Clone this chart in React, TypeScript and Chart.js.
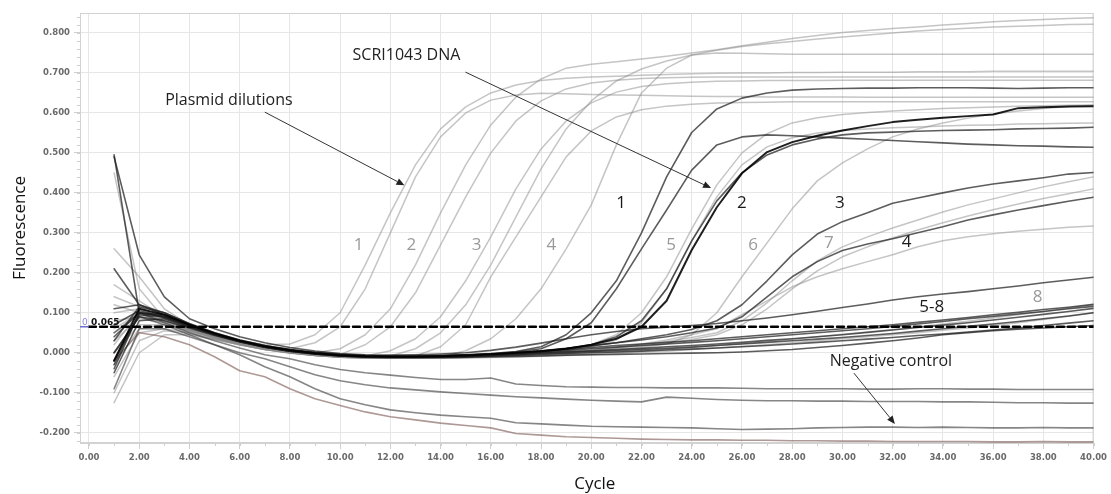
import React, { useEffect, useRef } from "react";
import { Chart, registerables } from "chart.js";

Chart.register(...registerables);

// ---------- data ----------
const CYCLES = [1, 2, 3, 4, 5, 6, 7, 8, 9, 10, 11, 12, 13, 14, 15, 16, 17, 18, 19, 20, 21, 22, 23, 24, 25, 26, 27, 28, 29, 30, 31, 32, 33, 34, 35, 36, 37, 38, 39, 40];
const X_TICKS = [0, 2, 4, 6, 8, 10, 12, 14, 16, 18, 20, 22, 24, 26, 28, 30, 32, 34, 36, 38, 40];
const Y_TICKS = [-0.2, -0.1, 0, 0.1, 0.2, 0.3, 0.4, 0.5, 0.6, 0.7, 0.8];
const THRESHOLD = 0.065;

// Plasmid dilutions (light grey)
const P1A = [0.26, 0.19, 0.11, 0.07, 0.045, 0.03, 0.02, 0.022, 0.045, 0.1, 0.22, 0.35, 0.47, 0.56, 0.615, 0.65, 0.67, 0.681, 0.687, 0.69, 0.692, 0.694, 0.696, 0.698, 0.699, 0.7, 0.7, 0.701, 0.701, 0.702, 0.702, 0.702, 0.703, 0.703, 0.703, 0.704, 0.704, 0.704, 0.704, 0.704];
const P1B = [0.17, 0.13, 0.09, 0.062, 0.042, 0.026, 0.015, 0.01, 0.025, 0.065, 0.16, 0.3, 0.44, 0.54, 0.6, 0.632, 0.645, 0.649, 0.648, 0.646, 0.645, 0.644, 0.643, 0.642, 0.641, 0.641, 0.64, 0.64, 0.64, 0.64, 0.639, 0.639, 0.639, 0.639, 0.639, 0.639, 0.639, 0.639, 0.639, 0.639];
const P2A = [0.1, 0.11, 0.085, 0.06, 0.04, 0.025, 0.013, 0.005, 0.0, 0.01, 0.045, 0.11, 0.22, 0.35, 0.47, 0.57, 0.64, 0.685, 0.712, 0.722, 0.728, 0.735, 0.742, 0.75, 0.758, 0.768, 0.777, 0.786, 0.794, 0.801, 0.806, 0.811, 0.815, 0.82, 0.824, 0.828, 0.831, 0.834, 0.836, 0.838];
const P2B = [0.05, 0.095, 0.08, 0.058, 0.04, 0.024, 0.012, 0.004, -0.003, -0.004, 0.02, 0.065, 0.15, 0.27, 0.39, 0.5, 0.58, 0.63, 0.66, 0.675, 0.682, 0.686, 0.688, 0.689, 0.69, 0.69, 0.69, 0.69, 0.69, 0.69, 0.69, 0.69, 0.69, 0.69, 0.69, 0.69, 0.69, 0.69, 0.69, 0.69];
const P3A = [0.02, 0.1, 0.078, 0.056, 0.038, 0.022, 0.01, 0.002, -0.005, -0.009, -0.008, 0.005, 0.035, 0.09, 0.18, 0.29, 0.41, 0.51, 0.58, 0.625, 0.652, 0.666, 0.673, 0.677, 0.679, 0.68, 0.681, 0.681, 0.681, 0.682, 0.682, 0.682, 0.682, 0.682, 0.682, 0.682, 0.682, 0.682, 0.682, 0.682];
const P3B = [-0.03, 0.06, 0.07, 0.055, 0.038, 0.022, 0.01, 0.001, -0.006, -0.01, -0.012, -0.008, 0.01, 0.05, 0.12, 0.22, 0.34, 0.46, 0.56, 0.63, 0.68, 0.71, 0.73, 0.745, 0.757, 0.766, 0.773, 0.779, 0.785, 0.79, 0.795, 0.8, 0.805, 0.809, 0.812, 0.815, 0.817, 0.819, 0.821, 0.822];
const P4A = [0.08, 0.09, 0.075, 0.055, 0.037, 0.021, 0.009, 0.0, -0.007, -0.011, -0.013, -0.013, -0.008, 0.015, 0.07, 0.19, 0.29, 0.39, 0.49, 0.555, 0.59, 0.608, 0.617, 0.622, 0.625, 0.626, 0.627, 0.628, 0.628, 0.628, 0.628, 0.628, 0.628, 0.628, 0.628, 0.628, 0.628, 0.628, 0.628, 0.628];
const P4B = [0.12, 0.1, 0.08, 0.057, 0.039, 0.023, 0.011, 0.002, -0.006, -0.011, -0.013, -0.014, -0.014, -0.01, 0.005, 0.035, 0.085, 0.16, 0.26, 0.37, 0.52, 0.65, 0.712, 0.745, 0.75, 0.749, 0.748, 0.747, 0.747, 0.747, 0.747, 0.747, 0.747, 0.747, 0.747, 0.747, 0.747, 0.747, 0.747, 0.747];
const P5A = [0.03, 0.085, 0.075, 0.055, 0.037, 0.021, 0.009, 0.0, -0.006, -0.01, -0.012, -0.013, -0.013, -0.012, -0.01, -0.007, -0.003, 0.002, 0.01, 0.02, 0.045, 0.1, 0.19, 0.31, 0.42, 0.5, 0.548, 0.575, 0.588, 0.596, 0.601, 0.605, 0.608, 0.611, 0.613, 0.615, 0.617, 0.618, 0.619, 0.62];
const P5B = [0.0, 0.07, 0.07, 0.053, 0.036, 0.02, 0.008, -0.001, -0.007, -0.011, -0.013, -0.014, -0.014, -0.013, -0.011, -0.008, -0.004, 0.0, 0.006, 0.015, 0.032, 0.075, 0.16, 0.28, 0.39, 0.47, 0.515, 0.538, 0.55, 0.556, 0.56, 0.563, 0.565, 0.567, 0.569, 0.57, 0.572, 0.573, 0.574, 0.575];
const P6A = [0.06, 0.1, 0.08, 0.057, 0.038, 0.022, 0.01, 0.001, -0.006, -0.01, -0.012, -0.013, -0.013, -0.013, -0.012, -0.01, -0.008, -0.005, -0.002, 0.002, 0.007, 0.013, 0.022, 0.045, 0.1, 0.19, 0.275, 0.36, 0.43, 0.475, 0.51, 0.54, 0.56, 0.575, 0.587, 0.597, 0.605, 0.611, 0.616, 0.619];
const P6B = [0.45, 0.16, 0.085, 0.06, 0.04, 0.024, 0.01, 0.0, -0.007, -0.011, -0.013, -0.014, -0.014, -0.013, -0.012, -0.01, -0.007, -0.004, 0.0, 0.006, 0.013, 0.022, 0.032, 0.045, 0.06, 0.095, 0.13, 0.165, 0.19, 0.21, 0.228, 0.245, 0.265, 0.28, 0.29, 0.298, 0.304, 0.309, 0.314, 0.317];
const P7A = [0.14, 0.115, 0.085, 0.06, 0.04, 0.024, 0.012, 0.003, -0.004, -0.009, -0.011, -0.012, -0.012, -0.011, -0.01, -0.008, -0.005, -0.002, 0.002, 0.007, 0.013, 0.02, 0.028, 0.038, 0.05, 0.08, 0.125, 0.18, 0.23, 0.265, 0.29, 0.312, 0.332, 0.352, 0.37, 0.385, 0.4, 0.415, 0.428, 0.44];
const P7B = [-0.1, 0.03, 0.055, 0.048, 0.034, 0.02, 0.008, 0.0, -0.006, -0.01, -0.012, -0.013, -0.013, -0.012, -0.011, -0.009, -0.006, -0.003, 0.0, 0.004, 0.01, 0.016, 0.024, 0.033, 0.045, 0.07, 0.11, 0.16, 0.205, 0.24, 0.265, 0.287, 0.307, 0.325, 0.342, 0.358, 0.372, 0.386, 0.398, 0.41];
const P8A = [-0.125, 0.0, 0.045, 0.045, 0.033, 0.02, 0.008, 0.0, -0.006, -0.01, -0.012, -0.013, -0.013, -0.013, -0.012, -0.011, -0.009, -0.007, -0.005, -0.002, 0.001, 0.005, 0.009, 0.013, 0.018, 0.023, 0.028, 0.034, 0.04, 0.046, 0.052, 0.058, 0.065, 0.072, 0.079, 0.087, 0.095, 0.103, 0.112, 0.12];
const P8B = [-0.06, 0.05, 0.06, 0.05, 0.034, 0.02, 0.008, 0.0, -0.006, -0.01, -0.012, -0.013, -0.014, -0.014, -0.013, -0.012, -0.011, -0.009, -0.007, -0.005, -0.002, 0.001, 0.004, 0.008, 0.012, 0.016, 0.02, 0.025, 0.03, 0.035, 0.04, 0.045, 0.05, 0.056, 0.062, 0.068, 0.075, 0.083, 0.091, 0.1];

// SCRI1043 DNA (dark)
const S1A = [0.495, 0.1, 0.09, 0.065, 0.045, 0.028, 0.015, 0.006, 0.0, -0.005, -0.007, -0.008, -0.008, -0.007, -0.005, -0.002, 0.003, 0.015, 0.045, 0.1, 0.18, 0.3, 0.44, 0.551, 0.61, 0.637, 0.65, 0.657, 0.66, 0.661, 0.662, 0.662, 0.663, 0.663, 0.663, 0.662, 0.661, 0.662, 0.663, 0.663];
const S1B = [0.21, 0.12, 0.095, 0.07, 0.048, 0.03, 0.016, 0.006, -0.001, -0.006, -0.008, -0.009, -0.009, -0.008, -0.006, -0.003, 0.002, 0.01, 0.035, 0.075, 0.16, 0.26, 0.357, 0.457, 0.52, 0.54, 0.545, 0.543, 0.54, 0.537, 0.534, 0.531, 0.528, 0.525, 0.522, 0.52, 0.518, 0.517, 0.515, 0.514];
const S2A = [-0.02, 0.11, 0.095, 0.07, 0.048, 0.03, 0.016, 0.006, -0.001, -0.006, -0.009, -0.01, -0.01, -0.009, -0.007, -0.004, 0.0, 0.004, 0.01, 0.02, 0.035, 0.065, 0.13, 0.257, 0.364, 0.449, 0.502, 0.527, 0.543, 0.556, 0.567, 0.577, 0.583, 0.588, 0.592, 0.596, 0.612, 0.614, 0.616, 0.617];
const S2B = [-0.03, 0.1, 0.09, 0.068, 0.047, 0.03, 0.016, 0.006, -0.001, -0.006, -0.009, -0.01, -0.01, -0.009, -0.007, -0.005, -0.001, 0.003, 0.01, 0.02, 0.04, 0.08, 0.16, 0.28, 0.38, 0.45, 0.495, 0.52, 0.535, 0.545, 0.55, 0.552, 0.554, 0.556, 0.557, 0.558, 0.56, 0.561, 0.562, 0.564];
const S3 = [0.0, 0.09, 0.08, 0.062, 0.043, 0.027, 0.014, 0.004, -0.003, -0.008, -0.01, -0.011, -0.011, -0.01, -0.008, -0.005, -0.001, 0.004, 0.01, 0.017, 0.025, 0.035, 0.045, 0.058, 0.08, 0.12, 0.18, 0.245, 0.297, 0.328, 0.35, 0.374, 0.387, 0.4, 0.412, 0.422, 0.43, 0.438, 0.447, 0.451];
const S4 = [-0.05, 0.08, 0.085, 0.064, 0.045, 0.028, 0.015, 0.005, -0.002, -0.007, -0.009, -0.01, -0.01, -0.009, -0.007, -0.004, 0.0, 0.005, 0.011, 0.018, 0.025, 0.032, 0.04, 0.05, 0.062, 0.09, 0.14, 0.19, 0.228, 0.256, 0.272, 0.285, 0.3, 0.315, 0.332, 0.345, 0.357, 0.368, 0.379, 0.389];
const S5 = [0.49, 0.245, 0.14, 0.085, 0.06, 0.04, 0.025, 0.013, 0.004, -0.002, -0.005, -0.006, -0.005, -0.003, 0.0, 0.006, 0.014, 0.024, 0.035, 0.045, 0.053, 0.06, 0.064, 0.068, 0.073, 0.08, 0.087, 0.095, 0.104, 0.113, 0.122, 0.132, 0.14, 0.147, 0.153, 0.16, 0.167, 0.175, 0.182, 0.189];
const S6 = [0.11, 0.12, 0.1, 0.072, 0.05, 0.032, 0.018, 0.008, 0.001, -0.004, -0.007, -0.008, -0.008, -0.007, -0.005, -0.003, 0.0, 0.004, 0.008, 0.013, 0.018, 0.022, 0.026, 0.03, 0.035, 0.04, 0.045, 0.05, 0.055, 0.06, 0.065, 0.07, 0.076, 0.082, 0.088, 0.095, 0.101, 0.108, 0.114, 0.121];
const S7 = [0.03, 0.115, 0.1, 0.073, 0.05, 0.032, 0.018, 0.008, 0.0, -0.005, -0.008, -0.009, -0.009, -0.008, -0.006, -0.004, -0.001, 0.002, 0.006, 0.01, 0.014, 0.018, 0.022, 0.026, 0.03, 0.035, 0.04, 0.045, 0.05, 0.055, 0.06, 0.066, 0.072, 0.078, 0.085, 0.091, 0.097, 0.103, 0.11, 0.116];
const S8 = [-0.04, 0.1, 0.095, 0.07, 0.048, 0.03, 0.016, 0.006, -0.001, -0.006, -0.009, -0.01, -0.01, -0.009, -0.008, -0.006, -0.003, 0.0, 0.003, 0.005, 0.008, 0.011, 0.015, 0.018, 0.022, 0.026, 0.031, 0.035, 0.04, 0.045, 0.051, 0.057, 0.063, 0.069, 0.075, 0.082, 0.089, 0.096, 0.103, 0.111];
const S9 = [0.07, 0.105, 0.09, 0.068, 0.047, 0.029, 0.015, 0.005, -0.002, -0.007, -0.01, -0.011, -0.011, -0.01, -0.009, -0.007, -0.004, -0.001, 0.001, 0.003, 0.005, 0.008, 0.011, 0.014, 0.018, 0.022, 0.026, 0.03, 0.034, 0.038, 0.043, 0.048, 0.054, 0.06, 0.066, 0.072, 0.078, 0.085, 0.092, 0.1];
const S10 = [-0.02, 0.095, 0.088, 0.066, 0.046, 0.028, 0.014, 0.004, -0.003, -0.008, -0.011, -0.012, -0.012, -0.011, -0.01, -0.008, -0.006, -0.004, -0.002, 0.0, 0.002, 0.004, 0.007, 0.009, 0.012, 0.015, 0.018, 0.022, 0.026, 0.03, 0.034, 0.038, 0.043, 0.047, 0.052, 0.057, 0.062, 0.068, 0.074, 0.08];
const S11 = [0.04, 0.1, 0.09, 0.067, 0.046, 0.028, 0.014, 0.004, -0.003, -0.008, -0.011, -0.012, -0.012, -0.012, -0.011, -0.01, -0.009, -0.008, -0.006, -0.005, -0.004, -0.003, -0.002, -0.001, 0.0, 0.002, 0.005, 0.008, 0.013, 0.018, 0.024, 0.03, 0.037, 0.045, 0.05, 0.055, 0.059, 0.062, 0.065, 0.068];

// Negative controls
const NC1 = [0.05, 0.1, 0.075, 0.05, 0.03, 0.012, -0.005, -0.015, -0.03, -0.042, -0.05, -0.056, -0.062, -0.067, -0.067, -0.063, -0.078, -0.082, -0.085, -0.086, -0.087, -0.087, -0.088, -0.088, -0.088, -0.089, -0.09, -0.09, -0.09, -0.09, -0.091, -0.091, -0.09, -0.09, -0.091, -0.091, -0.092, -0.092, -0.092, -0.092];
const NC2 = [0.0, 0.09, 0.07, 0.045, 0.02, 0.0, -0.015, -0.035, -0.055, -0.07, -0.08, -0.088, -0.093, -0.098, -0.102, -0.106, -0.11, -0.113, -0.116, -0.119, -0.121, -0.123, -0.111, -0.114, -0.117, -0.119, -0.12, -0.12, -0.121, -0.121, -0.122, -0.122, -0.122, -0.123, -0.123, -0.124, -0.125, -0.125, -0.126, -0.126];
const NC3 = [-0.09, 0.06, 0.06, 0.04, 0.02, -0.005, -0.035, -0.06, -0.09, -0.115, -0.13, -0.143, -0.15, -0.156, -0.16, -0.164, -0.175, -0.178, -0.181, -0.184, -0.185, -0.186, -0.187, -0.188, -0.19, -0.192, -0.191, -0.19, -0.188, -0.187, -0.186, -0.186, -0.187, -0.186, -0.187, -0.188, -0.188, -0.187, -0.188, -0.188];
const NC4 = [-0.02, 0.05, 0.04, 0.02, -0.01, -0.045, -0.06, -0.09, -0.115, -0.132, -0.148, -0.16, -0.168, -0.176, -0.182, -0.188, -0.202, -0.206, -0.21, -0.212, -0.214, -0.216, -0.217, -0.218, -0.218, -0.219, -0.219, -0.22, -0.22, -0.221, -0.221, -0.222, -0.222, -0.222, -0.222, -0.223, -0.223, -0.222, -0.223, -0.223];

type Kind = "light" | "dark" | "black" | "nc" | "ncRed";

const SERIES: { name: string; values: number[]; kind: Kind }[] = [
  { name: "SCRI 2a", values: S2A, kind: "black" },
  { name: "SCRI 1a", values: S1A, kind: "dark" },
  { name: "SCRI 1b", values: S1B, kind: "dark" },
  { name: "SCRI 2b", values: S2B, kind: "dark" },
  { name: "SCRI 3", values: S3, kind: "dark" },
  { name: "SCRI 4", values: S4, kind: "dark" },
  { name: "SCRI 5", values: S5, kind: "dark" },
  { name: "SCRI 6", values: S6, kind: "dark" },
  { name: "SCRI 7", values: S7, kind: "dark" },
  { name: "SCRI 8", values: S8, kind: "dark" },
  { name: "SCRI 9", values: S9, kind: "dark" },
  { name: "SCRI 10", values: S10, kind: "dark" },
  { name: "SCRI 11", values: S11, kind: "dark" },
  { name: "NC 1", values: NC1, kind: "nc" },
  { name: "NC 2", values: NC2, kind: "nc" },
  { name: "NC 3", values: NC3, kind: "nc" },
  { name: "NC 4", values: NC4, kind: "ncRed" },
  { name: "Plasmid 1a", values: P1A, kind: "light" },
  { name: "Plasmid 1b", values: P1B, kind: "light" },
  { name: "Plasmid 2a", values: P2A, kind: "light" },
  { name: "Plasmid 2b", values: P2B, kind: "light" },
  { name: "Plasmid 3a", values: P3A, kind: "light" },
  { name: "Plasmid 3b", values: P3B, kind: "light" },
  { name: "Plasmid 4a", values: P4A, kind: "light" },
  { name: "Plasmid 4b", values: P4B, kind: "light" },
  { name: "Plasmid 5a", values: P5A, kind: "light" },
  { name: "Plasmid 5b", values: P5B, kind: "light" },
  { name: "Plasmid 6a", values: P6A, kind: "light" },
  { name: "Plasmid 6b", values: P6B, kind: "light" },
  { name: "Plasmid 7a", values: P7A, kind: "light" },
  { name: "Plasmid 7b", values: P7B, kind: "light" },
  { name: "Plasmid 8a", values: P8A, kind: "light" },
  { name: "Plasmid 8b", values: P8B, kind: "light" },
];

const STYLES: Record<Kind, { color: string; width: number }> = {
  black: { color: "rgba(0,0,0,0.88)", width: 2 },
  dark: { color: "rgba(30,30,30,0.72)", width: 1.6 },
  nc: { color: "rgba(60,60,60,0.62)", width: 1.6 },
  ncRed: { color: "rgba(125,90,85,0.62)", width: 1.6 },
  light: { color: "rgba(140,140,140,0.5)", width: 1.5 },
};

// annotations (data coordinates)
const NOTES = [
  { text: "Plasmid dilutions", x: 5.57, y: 0.632, color: "#222222" },
  { text: "SCRI1043 DNA", x: 12.64, y: 0.744, color: "#222222" },
  { text: "Negative control", x: 31.93, y: -0.021, color: "#222222" },
];
const ARROWS = [
  { x0: 7.0, y0: 0.602, x1: 12.56, y1: 0.419 },
  { x0: 14.99, y0: 0.702, x1: 24.77, y1: 0.412 },
  { x0: 30.46, y0: -0.051, x1: 32.09, y1: -0.178 },
];
const PLASMID_LABELS = [
  { text: "1", x: 10.74, y: 0.269 },
  { text: "2", x: 12.84, y: 0.269 },
  { text: "3", x: 15.43, y: 0.269 },
  { text: "4", x: 18.41, y: 0.269 },
  { text: "5", x: 23.18, y: 0.269 },
  { text: "6", x: 26.44, y: 0.269 },
  { text: "7", x: 29.46, y: 0.274 },
  { text: "8", x: 37.77, y: 0.139 },
];
const SCRI_LABELS = [
  { text: "1", x: 21.19, y: 0.374 },
  { text: "2", x: 26.0, y: 0.374 },
  { text: "3", x: 29.9, y: 0.374 },
  { text: "4", x: 32.56, y: 0.277 },
  { text: "5-8", x: 33.56, y: 0.114 },
];

const TEXT_FONT = '"Open Sans", "Liberation Sans", sans-serif';

const overlayPlugin = {
  id: "overlay",
  beforeDatasetsDraw(chart: any) {
    const { ctx, chartArea: a, scales } = chart;
    const xs = scales.x;
    const ys = scales.y;
    ctx.save();
    ctx.strokeStyle = "#d2d2d2";
    ctx.lineWidth = 1;
    ctx.strokeRect(a.left + 0.5, a.top + 0.5, a.right - a.left - 1, a.bottom - a.top - 1);
    // minor ticks
    ctx.strokeStyle = "#cfcfcf";
    ctx.beginPath();
    for (let k = -11; k <= 42; k++) {
      const py = Math.round(ys.getPixelForValue(k * 0.02)) + 0.5;
      if (py < a.top || py > a.bottom) continue;
      ctx.moveTo(a.left - 3, py);
      ctx.lineTo(a.left, py);
    }
    for (let c = 0; c <= 40; c++) {
      const px = Math.round(xs.getPixelForValue(c)) + 0.5;
      ctx.moveTo(px, a.bottom);
      ctx.lineTo(px, a.bottom + 3);
    }
    ctx.stroke();
    ctx.restore();
  },
  afterDatasetsDraw(chart: any) {
    const { ctx, chartArea: a, scales } = chart;
    const xs = scales.x;
    const ys = scales.y;
    const X = (v: number) => xs.getPixelForValue(v);
    const Y = (v: number) => ys.getPixelForValue(v);
    ctx.save();
    // threshold marker
    const ty = Y(THRESHOLD);
    ctx.strokeStyle = "#6f6fd0";
    ctx.lineWidth = 1.5;
    ctx.beginPath();
    ctx.moveTo(a.left, ty);
    ctx.lineTo(X(0), ty);
    ctx.stroke();
    ctx.textBaseline = "alphabetic";
    ctx.textAlign = "left";
    ctx.font = '9px "DejaVu Sans", sans-serif';
    ctx.fillStyle = "#8a8ad8";
    ctx.fillText("0", a.left + 2, ty - 2);
    ctx.font = 'bold 9px "DejaVu Sans", sans-serif';
    ctx.fillStyle = "#111";
    ctx.fillText(THRESHOLD.toFixed(3), X(0) + 2, ty - 2);

    // arrows
    ctx.strokeStyle = "#333";
    ctx.fillStyle = "#222";
    ctx.lineWidth = 1;
    for (const ar of ARROWS) {
      const x0 = X(ar.x0), y0 = Y(ar.y0), x1 = X(ar.x1), y1 = Y(ar.y1);
      const ang = Math.atan2(y1 - y0, x1 - x0);
      const hl = 8, hw = 3.5;
      const bx = x1 - hl * Math.cos(ang), by = y1 - hl * Math.sin(ang);
      ctx.beginPath();
      ctx.moveTo(x0, y0);
      ctx.lineTo(bx, by);
      ctx.stroke();
      ctx.beginPath();
      ctx.moveTo(x1, y1);
      ctx.lineTo(bx + hw * Math.sin(ang), by - hw * Math.cos(ang));
      ctx.lineTo(bx - hw * Math.sin(ang), by + hw * Math.cos(ang));
      ctx.closePath();
      ctx.fill();
    }

    // notes
    ctx.textAlign = "center";
    ctx.textBaseline = "middle";
    ctx.font = `16px ${TEXT_FONT}`;
    for (const n of NOTES) {
      ctx.fillStyle = n.color;
      ctx.fillText(n.text, X(n.x), Y(n.y));
    }
    ctx.font = `17px ${TEXT_FONT}`;
    ctx.fillStyle = "#9a9a9a";
    for (const n of PLASMID_LABELS) ctx.fillText(n.text, X(n.x), Y(n.y));
    ctx.fillStyle = "#1a1a1a";
    for (const n of SCRI_LABELS) ctx.fillText(n.text, X(n.x), Y(n.y));

    // axis titles
    ctx.fillStyle = "#111";
    ctx.font = `17px ${TEXT_FONT}`;
    ctx.fillText("Cycle", (a.left + a.right) / 2 + 8, 484);
    ctx.save();
    ctx.translate(20, (a.top + a.bottom) / 2);
    ctx.rotate(-Math.PI / 2);
    ctx.fillText("Fluorescence", 0, 0);
    ctx.restore();
    ctx.restore();
  },
};

export default function App() {
  const ref = useRef<HTMLCanvasElement | null>(null);
  useEffect(() => {
    if (!ref.current) return;
    const datasets: any[] = [
      {
        label: "Threshold",
        data: [
          { x: 0, y: THRESHOLD },
          { x: 40, y: THRESHOLD },
        ],
        borderColor: "#000",
        borderWidth: 2.4,
        borderDash: [7, 4],
        pointRadius: 0,
      },
      ...SERIES.map((s) => ({
        label: s.name,
        data: CYCLES.map((c, i) => ({ x: c, y: s.values[i] })),
        borderColor: STYLES[s.kind].color,
        borderWidth: STYLES[s.kind].width,
        pointRadius: 0,
        tension: 0,
      })),
    ];
    const chart = new Chart(ref.current, {
      type: "line",
      data: { datasets },
      options: {
        animation: false,
        responsive: false,
        maintainAspectRatio: false,
        layout: { padding: { top: 13, right: 16, left: 0, bottom: 0 } },
        plugins: { legend: { display: false }, tooltip: { enabled: false } },
        elements: { line: { borderCapStyle: "round", borderJoinStyle: "round" } },
        scales: {
          x: {
            type: "linear",
            min: -0.358,
            max: 40,
            afterBuildTicks: (s: any) => {
              s.ticks = X_TICKS.map((v) => ({ value: v }));
            },
            afterFit: (s: any) => {
              s.height = 51;
            },
            grid: { color: "#e6e6e6", tickLength: 6, tickColor: "#cfcfcf" },
            border: { color: "#d2d2d2" },
            ticks: {
              autoSkip: false,
              maxRotation: 0,
              padding: 4,
              color: "#6a6a6a",
              font: { family: "DejaVu Sans", size: 8.5, weight: "bold" },
              callback: (v: any) => Number(v).toFixed(2),
            },
          },
          y: {
            type: "linear",
            min: -0.2258,
            max: 0.85,
            afterBuildTicks: (s: any) => {
              s.ticks = Y_TICKS.map((v) => ({ value: v }));
            },
            afterFit: (s: any) => {
              s.width = 80;
            },
            grid: { color: "#e6e6e6", tickLength: 6, tickColor: "#cfcfcf" },
            border: { color: "#d2d2d2" },
            ticks: {
              padding: 4,
              color: "#6a6a6a",
              font: { family: "DejaVu Sans", size: 8.5, weight: "bold" },
              callback: (v: any) => Number(v).toFixed(3),
            },
          },
        },
      },
      plugins: [overlayPlugin],
    } as any);
    return () => chart.destroy();
  }, []);
  return (
    <div style={{ position: "absolute", left: 0, top: 0, width: 1111, height: 494, background: "#fff" }}>
      <canvas ref={ref} width={1111} height={494} style={{ display: "block" }} />
    </div>
  );
}
